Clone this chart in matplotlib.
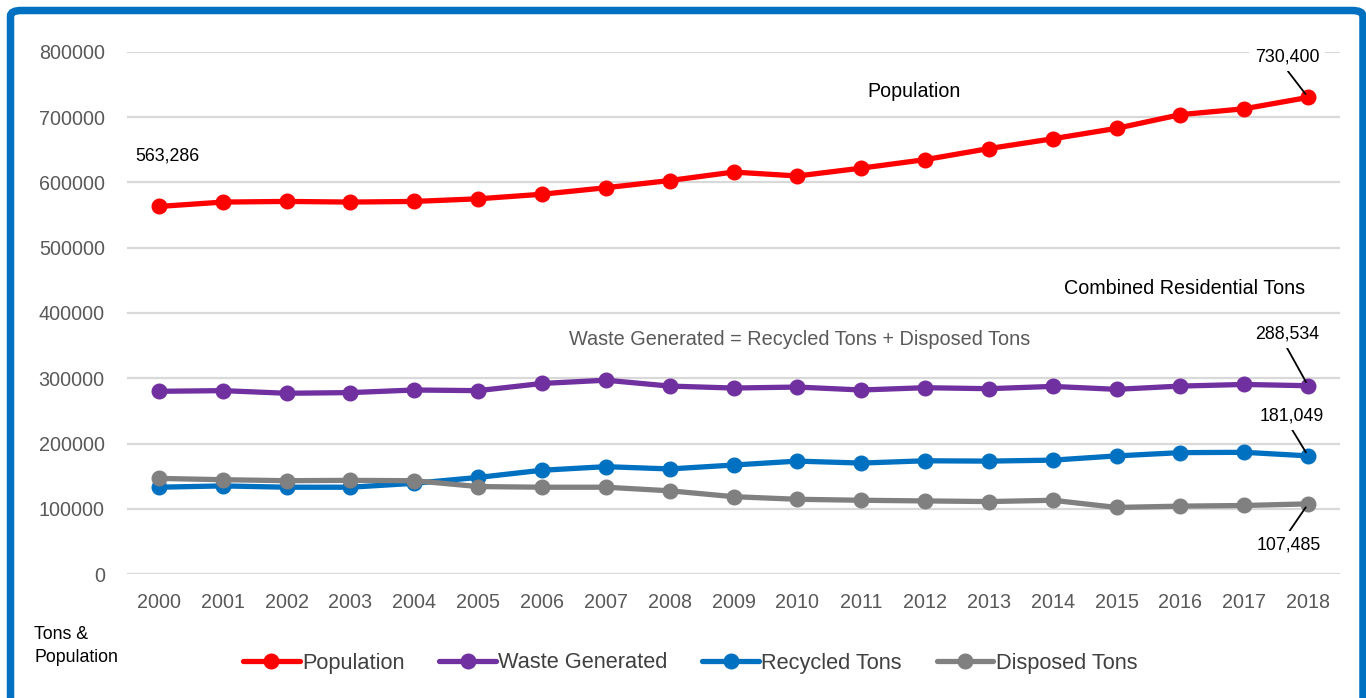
import matplotlib
matplotlib.use("Agg")
import matplotlib.pyplot as plt
from matplotlib.patches import FancyBboxPatch

years = [str(y) for y in range(2000, 2019)]
population = [563286, 570000, 571000, 570000, 571000, 575000, 582000, 592000, 603000, 616000,
              610000, 622000, 635000, 652000, 667000, 683000, 704000, 713000, 730400]
waste_generated = [280000, 281000, 277000, 278000, 282000, 281000, 292000, 297000, 288000, 285000,
                   286500, 282000, 285500, 284000, 287500, 283000, 288000, 290500, 288534]
recycled_tons = [133000, 135000, 133000, 133000, 139000, 148000, 159000, 164500, 161000, 167000,
                 173000, 170000, 173500, 173000, 174500, 181000, 186000, 186500, 181049]
disposed_tons = [146500, 144500, 143000, 143500, 143000, 134000, 133000, 133000, 127500, 118500,
                 114500, 113000, 112000, 111000, 113000, 102000, 104000, 105000, 107485]
y_ticks = [0, 100000, 200000, 300000, 400000, 500000, 600000, 700000, 800000]

font = "Liberation Sans"

W, H = 1366, 698
fig = plt.figure(figsize=(W / 100, H / 100), dpi=100)
ax = fig.add_axes([127 / W, 1 - 574 / H, (1340 - 127) / W, (574 - 52) / H])

x = list(range(len(years)))
series = [
    ("Population", population, "#FF0000"),
    ("Waste Generated", waste_generated, "#7030A0"),
    ("Recycled Tons", recycled_tons, "#0070C0"),
    ("Disposed Tons", disposed_tons, "#808080"),
]
lines = []
for name, vals, col in series:
    ln, = ax.plot(x, vals, color=col, lw=3.8, marker="o", ms=10.5, label=name, zorder=3,
                  solid_capstyle="round")
    lines.append(ln)

ax.set_xlim(-0.5, len(years) - 0.5)
ax.set_ylim(0, 800000)
ax.set_yticks(y_ticks)
ax.set_yticklabels([str(v) for v in y_ticks])
ax.set_xticks(x)
ax.set_xticklabels(years)
ax.grid(axis="y", color="#D9D9D9", lw=1.6, zorder=0)
ax.set_axisbelow(True)
for s in ax.spines.values():
    s.set_visible(False)
ax.tick_params(axis="both", length=0, colors="#595959", labelsize=14.2)
ax.tick_params(axis="y", pad=16)
ax.tick_params(axis="x", pad=14)
for lab in ax.get_xticklabels() + ax.get_yticklabels():
    lab.set_family(font)

ax.text(0.14, 640000, "563,286", ha="center", va="center", family=font, fontsize=12.8, color="black")
ax.text(11.83, 740000, "Population", ha="center", va="center", family=font, fontsize=14.1, color="black")
ax.text(16.06, 437000, "Combined Residential Tons", ha="center", va="center", family=font,
        fontsize=14.2, color="black")
ax.text(10.03, 359000, "Waste Generated = Recycled Tons + Disposed Tons", ha="center", va="center",
        family=font, fontsize=14.3, color="#595959")

def callout(idx, vals, label, dx, dy):
    ax.annotate(label, xy=(idx, vals[idx]), xytext=(dx, dy), textcoords="offset pixels",
                ha="center", va="center", zorder=4, family=font, fontsize=12.8, color="black",
                bbox=dict(boxstyle="square,pad=0.3", fc="white", ec="none"),
                arrowprops=dict(arrowstyle="-", color="black", lw=1.3, shrinkA=0, shrinkB=3,
                                relpos=(0.45, 0.0) if dy > 0 else (0.45, 1.0)))

last = len(years) - 1
callout(last, population, "730,400", -21, 40)
callout(last, waste_generated, "288,534", -21, 52)
callout(last, recycled_tons, "181,049", -16, 40)
callout(last, disposed_tons, "107,485", -19, -41)

fig.text(34 / W, 1 - 646 / H, "Tons &\nPopulation", ha="left", va="center",
         family=font, fontsize=12.8, color="black", linespacing=1.45)

leg = fig.legend(handles=lines, loc="center", bbox_to_anchor=(690 / W, 1 - 663 / H), ncol=4,
                 frameon=False, handlelength=2.6, handletextpad=0.1, columnspacing=1.6,
                 prop=dict(family=font, size=15.7))
for t in leg.get_texts():
    t.set_color("#404040")

border = FancyBboxPatch((10.5 / W, -0.1), (1363 - 10.5) / W, (1 - 10.5 / H) + 0.1,
                        boxstyle="round,pad=0,rounding_size=0.008", transform=fig.transFigure,
                        fill=False, ec="#0070C0", lw=5.4, clip_on=False)
fig.patches.append(border)

fig.savefig("out.png", dpi=100)
